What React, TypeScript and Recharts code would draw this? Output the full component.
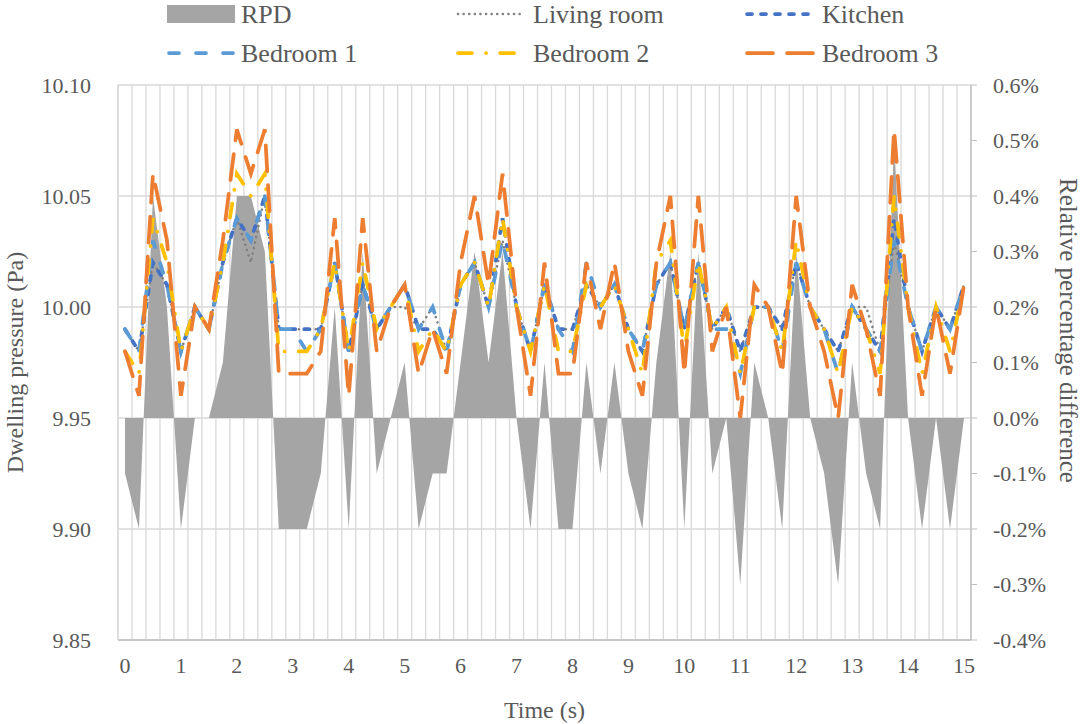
import React from "react";
import { ComposedChart, Area, Line, XAxis, YAxis, CartesianGrid } from "recharts";

// time steps (s)
const time = [
  0, 0.25, 0.5, 0.75, 1, 1.25, 1.5, 1.75, 2, 2.25, 2.5, 2.75, 3, 3.25, 3.5, 3.75,
  4, 4.25, 4.5, 4.75, 5, 5.25, 5.5, 5.75, 6, 6.25, 6.5, 6.75, 7, 7.25, 7.5, 7.75,
  8, 8.25, 8.5, 8.75, 9, 9.25, 9.5, 9.75, 10, 10.25, 10.5, 10.75, 11, 11.25, 11.5, 11.75,
  12, 12.25, 12.5, 12.75, 13, 13.25, 13.5, 13.75, 14, 14.25, 14.5, 14.75, 15,
];

// relative percentage difference (%)
const rpd = [
  -0.1, -0.2, 0.4, 0.2, -0.2, 0, 0, 0.1, 0.4, 0.4, 0.3, -0.2, -0.2, -0.2, -0.1, 0.2,
  -0.2, 0.3, -0.1, 0, 0.1, -0.2, -0.1, -0.1, 0.1, 0.3, 0.1, 0.3, 0, -0.2, 0.1,
  -0.2, -0.2, 0.1, -0.1, 0.1, -0.1, -0.2, 0.1, 0.3, -0.2, 0.3, -0.1, 0, -0.3, 0.1,
  0, -0.2, 0.3, 0, -0.1, -0.3, 0.1, -0.1, -0.2, 0.5, 0, -0.2, 0, -0.2, 0,
];

// dwelling pressure (Pa)
const livingRoom = [
  9.99, 9.98, 10.02, 10.01, 9.98, 10.0, 9.99, 10.02, 10.04, 10.02, 10.05, 9.99, 9.99, 9.99, 9.99, 10.02,
  9.98, 10.01, 9.99, 10.0, 10.0, 9.99, 10.0, 9.98, 10.01, 10.02, 10.0, 10.03, 10.0, 9.98, 10.01,
  9.99, 9.99, 10.01, 10.0, 10.01, 9.99, 9.98, 10.01, 10.02, 9.99, 10.02, 9.99, 10.0, 9.98, 10.0,
  10.0, 9.99, 10.02, 10.0, 9.99, 9.98, 10.0, 10.0, 9.98, 10.03, 10.0, 9.98, 10.0, 9.99, 10.01,
];
const kitchen = [
  9.99, 9.98, 10.02, 10.01, 9.98, 10.0, 9.99, 10.02, 10.04, 10.03, 10.05, 9.99, 9.99, 9.99, 9.99, 10.02,
  9.98, 10.01, 9.99, 10.0, 10.01, 9.99, 9.99, 9.98, 10.01, 10.02, 10.0, 10.04, 10.0, 9.98, 10.01,
  9.99, 9.99, 10.01, 10.0, 10.01, 9.99, 9.98, 10.01, 10.02, 9.99, 10.02, 9.99, 10.0, 9.98, 10.0,
  10.0, 9.99, 10.02, 10.0, 9.99, 9.98, 10.0, 9.99, 9.98, 10.04, 10.0, 9.98, 10.0, 9.99, 10.01,
];
const bedroom1 = [
  9.99, 9.98, 10.03, 10.01, 9.98, 10.0, 9.99, 10.02, 10.04, 10.03, 10.05, 9.99, 9.99, 9.98, 9.99, 10.02,
  9.98, 10.01, 9.99, 10.0, 10.01, 9.99, 10.0, 9.98, 10.01, 10.02, 10.0, 10.03, 10.0, 9.98, 10.01,
  9.99, 9.98, 10.02, 10.0, 10.01, 9.99, 9.98, 10.01, 10.02, 9.99, 10.02, 9.99, 9.99, 9.97, 10.0,
  10.0, 9.98, 10.02, 10.0, 9.99, 9.97, 10.0, 9.99, 9.98, 10.03, 10.0, 9.98, 10.0, 9.99, 10.01,
];
const bedroom2 = [
  9.98, 9.97, 10.04, 10.02, 9.98, 10.0, 9.99, 10.02, 10.06, 10.05, 10.06, 9.98, 9.98, 9.98, 9.99, 10.02,
  9.98, 10.02, 9.99, 10.0, 10.01, 9.98, 9.99, 9.98, 10.01, 10.02, 10.0, 10.04, 10.0, 9.98, 10.01,
  9.98, 9.98, 10.01, 10.0, 10.01, 9.99, 9.97, 10.02, 10.03, 9.98, 10.02, 9.99, 10.0, 9.97, 10.0,
  10.0, 9.98, 10.03, 10.0, 9.99, 9.97, 10.0, 9.99, 9.97, 10.05, 10.0, 9.97, 10.0, 9.98, 10.01,
];
const bedroom3 = [
  9.98, 9.96, 10.06, 10.03, 9.96, 10.0, 9.99, 10.03, 10.08, 10.06, 10.08, 9.97, 9.97, 9.97, 9.98, 10.04,
  9.96, 10.04, 9.98, 10.0, 10.01, 9.97, 9.99, 9.97, 10.02, 10.05, 10.01, 10.06, 10.0, 9.96, 10.02,
  9.97, 9.97, 10.02, 9.99, 10.02, 9.98, 9.96, 10.02, 10.05, 9.97, 10.05, 9.98, 10.0, 9.95, 10.01,
  10.0, 9.97, 10.05, 10.0, 9.98, 9.95, 10.01, 9.99, 9.96, 10.08, 10.0, 9.96, 10.0, 9.97, 10.01,
];

const timeTicks = [0, 1, 2, 3, 4, 5, 6, 7, 8, 9, 10, 11, 12, 13, 14, 15];
const pressureTicks = [9.85, 9.9, 9.95, 10.0, 10.05, 10.1];
const rpdTicks = [-0.4, -0.3, -0.2, -0.1, 0, 0.1, 0.2, 0.3, 0.4, 0.5, 0.6];

const data = time.map((t, i) => ({
  t,
  rpd: rpd[i],
  living: livingRoom[i],
  kitchen: kitchen[i],
  bed1: bedroom1[i],
  bed2: bedroom2[i],
  bed3: bedroom3[i],
}));

// category boundaries for the vertical gridlines (half a step either side)
const half = 0.125;
const gridBounds = [...time.map((t) => t - half), time[time.length - 1] + half];
const X_MIN = gridBounds[0];
const X_MAX = gridBounds[gridBounds.length - 1];

const FONT = "'Liberation Serif', 'Times New Roman', serif";
const TEXT = "#595959";
const GRID = "#D9D9D9";

const C = {
  rpd: "#A5A5A5",
  living: "#7F7F7F",
  kitchen: "#4472C4",
  bed1: "#5B9BD5",
  bed2: "#FFC000",
  bed3: "#ED7D31",
};

const DASH = {
  living: "0.1 5.5",
  kitchen: "5 9",
  bed1: "10 17",
  bed2: "14 14 0.1 14",
  bed3: "26 14",
};

const tickStyle = { fontSize: 22, fill: TEXT, fontFamily: FONT };

const verticalGrid = ({ xAxis, offset }: any) => {
  const scale = xAxis && xAxis.scale;
  return gridBounds.map((b) =>
    typeof scale === "function"
      ? scale(b)
      : offset.left + ((b - X_MIN) / (X_MAX - X_MIN)) * offset.width
  );
};

function LegendBox() {
  const items = [
    { label: "RPD", x: 167, tx: 241, y: 14, kind: "area" },
    { label: "Living room", x: 456, tx: 533, y: 14, kind: "living" },
    { label: "Kitchen", x: 745, tx: 822, y: 14, kind: "kitchen" },
    { label: "Bedroom 1", x: 167, tx: 241, y: 53, kind: "bed1" },
    { label: "Bedroom 2", x: 456, tx: 533, y: 53, kind: "bed2" },
    { label: "Bedroom 3", x: 745, tx: 822, y: 53, kind: "bed3" },
  ];
  return (
    <svg
      width={1084}
      height={75}
      style={{ position: "absolute", left: 0, top: 0, pointerEvents: "none" }}
    >
      {items.map((it) => (
        <g key={it.label}>
          {it.kind === "area" ? (
            <rect x={it.x} y={it.y - 9} width={68} height={18} fill={C.rpd} />
          ) : (
            <line
              x1={it.x + 2}
              x2={it.x + 68}
              y1={it.y}
              y2={it.y}
              stroke={(C as any)[it.kind]}
              strokeWidth={it.kind === "living" ? 2.5 : 3.75}
              strokeDasharray={(DASH as any)[it.kind]}
              strokeLinecap="round"
            />
          )}
          <text
            x={it.tx}
            y={it.y}
            dominantBaseline="central"
            fontSize={26}
            fontFamily={FONT}
            fill={TEXT}
          >
            {it.label}
          </text>
        </g>
      ))}
    </svg>
  );
}

export default function App() {
  return (
    <div style={{ position: "absolute", left: 0, top: 0, width: 1084, height: 724, background: "#fff" }}>
      <ComposedChart
        width={1084}
        height={724}
        data={data}
        margin={{ top: 85, right: 0, bottom: 0, left: 0 }}
      >
        <CartesianGrid
          yAxisId="left"
          stroke={GRID}
          strokeWidth={1.3}
          horizontal={true}
          vertical={true}
          verticalCoordinatesGenerator={verticalGrid}
        />
        <XAxis
          dataKey="t"
          type="number"
          domain={[X_MIN, X_MAX]}
          ticks={timeTicks}
          interval={0}
          tickLine={false}
          tickSize={0}
          tickMargin={17}
          axisLine={{ stroke: "#BFBFBF", strokeWidth: 1.3 }}
          tick={tickStyle}
          height={84}
          label={{ value: "Time (s)", position: "insideBottom", offset: 6, fontSize: 24, fontFamily: FONT, fill: TEXT }}
        />
        <YAxis
          yAxisId="left"
          orientation="left"
          domain={[9.85, 10.1]}
          ticks={pressureTicks}
          interval={0}
          width={118}
          tickLine={false}
          tickSize={0}
          tickMargin={27}
          axisLine={{ stroke: GRID, strokeWidth: 1.3 }}
          tick={tickStyle}
          tickFormatter={(v: number) => v.toFixed(2)}
          allowDataOverflow
          label={{
            value: "Dwelling pressure (Pa)",
            angle: -90,
            position: "insideLeft",
            offset: 14,
            fontSize: 24,
            fontFamily: FONT,
            fill: TEXT,
            style: { textAnchor: "middle" },
          }}
        />
        <YAxis
          yAxisId="right"
          orientation="right"
          domain={[-0.4, 0.6]}
          ticks={rpdTicks}
          interval={0}
          width={113}
          tickLine={{ stroke: "#BFBFBF" }}
          tickSize={6}
          tickMargin={16}
          axisLine={{ stroke: "#BFBFBF", strokeWidth: 1.3 }}
          tick={tickStyle}
          tickFormatter={(v: number) => `${v.toFixed(1)}%`}
          allowDataOverflow
          label={{
            value: "Relative percentage difference",
            angle: 90,
            position: "insideRight",
            offset: 15,
            dy: -32,
            fontSize: 25,
            fontFamily: FONT,
            fill: TEXT,
            style: { textAnchor: "middle" },
          }}
        />
        <Area
          yAxisId="right"
          dataKey="rpd"
          type="linear"
          baseValue={0}
          stroke="none"
          fill={C.rpd}
          fillOpacity={1}
          isAnimationActive={false}
          dot={false}
          activeDot={false}
        />
        <Line yAxisId="left" dataKey="living" type="linear" stroke={C.living} strokeWidth={2.5}
          strokeDasharray={DASH.living} strokeLinecap="round" dot={false} activeDot={false} isAnimationActive={false} />
        <Line yAxisId="left" dataKey="kitchen" type="linear" stroke={C.kitchen} strokeWidth={3.75}
          strokeDasharray={DASH.kitchen} strokeLinecap="round" dot={false} activeDot={false} isAnimationActive={false} />
        <Line yAxisId="left" dataKey="bed1" type="linear" stroke={C.bed1} strokeWidth={3.75}
          strokeDasharray={DASH.bed1} strokeLinecap="round" dot={false} activeDot={false} isAnimationActive={false} />
        <Line yAxisId="left" dataKey="bed2" type="linear" stroke={C.bed2} strokeWidth={3.75}
          strokeDasharray={DASH.bed2} strokeLinecap="round" dot={false} activeDot={false} isAnimationActive={false} />
        <Line yAxisId="left" dataKey="bed3" type="linear" stroke={C.bed3} strokeWidth={3.75}
          strokeDasharray={DASH.bed3} strokeLinecap="round" dot={false} activeDot={false} isAnimationActive={false} />
      </ComposedChart>
      <LegendBox />
    </div>
  );
}
